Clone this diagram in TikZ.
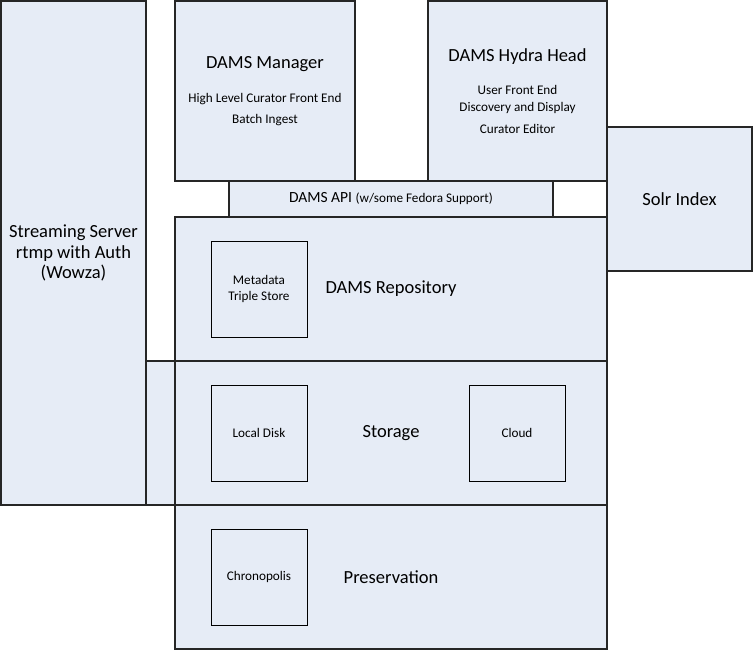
\documentclass[tikz,border=0pt]{standalone}
\usepackage{fontspec}
\setmainfont{Carlito}
\usetikzlibrary{positioning}

\definecolor{damsfill}{RGB}{230,236,246}
\newcommand{\titlesize}{\fontsize{18.5}{20.8}\selectfont}
\newcommand{\apisize}{\fontsize{15.5}{18}\selectfont}
\newcommand{\smallsize}{\fontsize{13.2}{16}\selectfont}

\begin{document}
\begin{tikzpicture}[x=1pt, y=-1pt, node distance=48pt,
  box/.style={draw=black!85, line width=1.5pt, fill=damsfill, inner sep=0pt, outer sep=0pt, align=center, font=\titlesize},
  part/.style={draw=black, line width=0.8pt, fill=damsfill, minimum width=96pt, minimum height=96pt, inner sep=0pt, outer sep=0pt, align=center, font=\smallsize}]

  \useasboundingbox (0,0) rectangle (753,651);

  % Streaming server and its link to storage
  \node[box, anchor=north west, minimum width=145pt, minimum height=504pt] (stream) at (1,1)
    {Streaming Server\\rtmp with Auth\\(Wowza)};
  \node[box, anchor=north west, minimum width=30pt, minimum height=144pt] (link) at (146,361) {};

  % Front ends
  \node[box, anchor=north west, minimum width=180pt, minimum height=180pt] (manager) at (175,1)
    {DAMS Manager\\[13pt]{\smallsize High Level Curator Front End}\\[0pt]{\smallsize Batch Ingest}};
  \node[box, anchor=north west, minimum width=179pt, minimum height=180pt] (hydra) at (428,1)
    {DAMS Hydra Head\\[13pt]{\smallsize User Front End}\\[-4pt]{\smallsize Discovery and Display}\\[1pt]{\smallsize Curator Editor}};
  \node[box, anchor=north west, minimum width=145pt, minimum height=144pt] (solr) at (607,127) {Solr Index};

  % API
  \node[box, anchor=north west, minimum width=324pt, minimum height=36pt, font=\apisize] (api) at (229,181)
    {DAMS API {\smallsize (w/some Fedora Support)}};

  % Layers
  \node[box, anchor=north west, minimum width=432pt, minimum height=144pt] (repo) at (175,217) {DAMS Repository};
  \node[box, below=0pt of repo, minimum width=432pt, minimum height=144pt] (storage) {Storage};
  \node[box, below=0pt of storage, minimum width=432pt, minimum height=144pt] (preserve) {Preservation};

  % Parts of the layers
  \node[part, anchor=north west] (meta) at (211,241) {Metadata\\Triple Store};
  \node[part, below=of meta] (disk) {Local Disk};
  \node[part, right=162pt of disk] (cloud) {Cloud};
  \node[part, below=of disk] (chrono) {Chronopolis};

\end{tikzpicture}
\end{document}
